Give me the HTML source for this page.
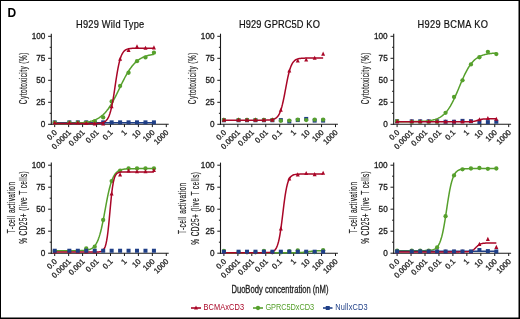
<!DOCTYPE html><html><head><meta charset="utf-8"><style>html,body{margin:0;padding:0;background:#fff;}svg{display:block;will-change:transform;}text{font-family:"Liberation Sans",sans-serif;}</style></head><body>
<svg width="520" height="319" viewBox="0 0 520 319">
<rect width="520" height="319" fill="#fff"/>
<rect x="0" y="0" width="520" height="1" fill="#000"/><rect x="0" y="0" width="1" height="319" fill="#000"/>
<rect x="518.5" y="0" width="1.5" height="319" fill="#000"/><rect x="0" y="317.5" width="520" height="1.5" fill="#000"/>
<text x="7.4" y="16.7" font-size="12" font-weight="bold" fill="#000">D</text>
<path d="M51.3 33.7V124.8" stroke="#1a1a1a" stroke-width="1.1" fill="none"/>
<path d="M48.1 124.3H51.3" stroke="#1a1a1a" stroke-width="1"/>
<text x="45.3" y="127.24" font-size="8.2" text-anchor="end" fill="#1e1e1e" stroke="#1e1e1e" stroke-width="0.3">0</text>
<path d="M48.1 102.3H51.3" stroke="#1a1a1a" stroke-width="1"/>
<text x="45.3" y="105.24" font-size="8.2" text-anchor="end" fill="#1e1e1e" stroke="#1e1e1e" stroke-width="0.3">25</text>
<path d="M48.1 80.3H51.3" stroke="#1a1a1a" stroke-width="1"/>
<text x="45.3" y="83.24" font-size="8.2" text-anchor="end" fill="#1e1e1e" stroke="#1e1e1e" stroke-width="0.3">50</text>
<path d="M48.1 58.3H51.3" stroke="#1a1a1a" stroke-width="1"/>
<text x="45.3" y="61.24" font-size="8.2" text-anchor="end" fill="#1e1e1e" stroke="#1e1e1e" stroke-width="0.3">75</text>
<path d="M48.1 36.3H51.3" stroke="#1a1a1a" stroke-width="1"/>
<text x="45.3" y="39.24" font-size="8.2" text-anchor="end" fill="#1e1e1e" stroke="#1e1e1e" stroke-width="0.3">100</text>
<path d="M49.7 113.3H51.3" stroke="#1a1a1a" stroke-width="1"/>
<path d="M49.7 91.3H51.3" stroke="#1a1a1a" stroke-width="1"/>
<path d="M49.7 69.3H51.3" stroke="#1a1a1a" stroke-width="1"/>
<path d="M49.7 47.3H51.3" stroke="#1a1a1a" stroke-width="1"/>
<path d="M50.8 124.3H168.7" stroke="#1a1a1a" stroke-width="1.1"/>
<path d="M54.7 124.3V127.1" stroke="#1a1a1a" stroke-width="1"/>
<text font-size="7.7" text-anchor="end" fill="#1e1e1e" stroke="#1e1e1e" stroke-width="0.3" transform="translate(57.5 133) rotate(-45)">0.0</text>
<path d="M68.65 124.3V127.1" stroke="#1a1a1a" stroke-width="1"/>
<text font-size="7.7" text-anchor="end" fill="#1e1e1e" stroke="#1e1e1e" stroke-width="0.3" transform="translate(71.45 133) rotate(-45)">0.0001</text>
<path d="M82.6 124.3V127.1" stroke="#1a1a1a" stroke-width="1"/>
<text font-size="7.7" text-anchor="end" fill="#1e1e1e" stroke="#1e1e1e" stroke-width="0.3" transform="translate(85.4 133) rotate(-45)">0.001</text>
<path d="M96.55 124.3V127.1" stroke="#1a1a1a" stroke-width="1"/>
<text font-size="7.7" text-anchor="end" fill="#1e1e1e" stroke="#1e1e1e" stroke-width="0.3" transform="translate(99.35 133) rotate(-45)">0.01</text>
<path d="M110.5 124.3V127.1" stroke="#1a1a1a" stroke-width="1"/>
<text font-size="7.7" text-anchor="end" fill="#1e1e1e" stroke="#1e1e1e" stroke-width="0.3" transform="translate(113.3 133) rotate(-45)">0.1</text>
<path d="M124.45 124.3V127.1" stroke="#1a1a1a" stroke-width="1"/>
<text font-size="7.7" text-anchor="end" fill="#1e1e1e" stroke="#1e1e1e" stroke-width="0.3" transform="translate(127.25 133) rotate(-45)">1</text>
<path d="M138.4 124.3V127.1" stroke="#1a1a1a" stroke-width="1"/>
<text font-size="7.7" text-anchor="end" fill="#1e1e1e" stroke="#1e1e1e" stroke-width="0.3" transform="translate(141.2 133) rotate(-45)">10</text>
<path d="M152.35 124.3V127.1" stroke="#1a1a1a" stroke-width="1"/>
<text font-size="7.7" text-anchor="end" fill="#1e1e1e" stroke="#1e1e1e" stroke-width="0.3" transform="translate(155.15 133) rotate(-45)">100</text>
<path d="M166.3 124.3V127.1" stroke="#1a1a1a" stroke-width="1"/>
<text font-size="7.7" text-anchor="end" fill="#1e1e1e" stroke="#1e1e1e" stroke-width="0.3" transform="translate(169.1 133) rotate(-45)">1000</text>
<text x="84.4" y="27.8" font-size="10.3" fill="#111" textLength="75.85" lengthAdjust="spacing" transform="scale(0.9 1)" stroke="#111" stroke-width="0.2">H929 Wild Type</text>
<text x="-0.53" y="0" font-size="10.5" fill="#2a2a2a" stroke="#2a2a2a" stroke-width="0.2" textLength="82.99" lengthAdjust="spacing" transform="translate(26.9 103.8) rotate(-90) scale(0.62 1)">Cytotoxicity (%)</text>
<path d="M54.7 122.72H153.93" stroke="#1f3f87" stroke-width="1.5"/>
<rect x="52.7" y="120.36" width="4" height="4" fill="#1f3f87"/><rect x="67.35" y="120.36" width="4" height="4" fill="#1f3f87"/><rect x="75.81" y="120.36" width="4" height="4" fill="#1f3f87"/><rect x="84.27" y="120.36" width="4" height="4" fill="#1f3f87"/><rect x="92.72" y="120.36" width="4" height="4" fill="#1f3f87"/><rect x="101.18" y="120.36" width="4" height="4" fill="#1f3f87"/><rect x="109.64" y="120.36" width="4" height="4" fill="#1f3f87"/><rect x="118.1" y="120.36" width="4" height="4" fill="#1f3f87"/><rect x="126.56" y="120.36" width="4" height="4" fill="#1f3f87"/><rect x="135.01" y="120.36" width="4" height="4" fill="#1f3f87"/><rect x="143.47" y="120.36" width="4" height="4" fill="#1f3f87"/><rect x="151.93" y="120.36" width="4" height="4" fill="#1f3f87"/>
<path d="M54.7,123.55 L55.37,123.55 L56.03,123.55 L56.7,123.54 L57.36,123.54 L58.03,123.54 L58.7,123.53 L59.36,123.53 L60.03,123.52 L60.69,123.52 L61.36,123.51 L62.03,123.51 L62.69,123.5 L63.36,123.49 L64.02,123.48 L64.69,123.48 L65.36,123.47 L66.02,123.46 L66.69,123.45 L67.35,123.44 L68.02,123.42 L68.69,123.41 L69.35,123.4 L70.02,123.38 L70.68,123.36 L71.35,123.35 L72.02,123.33 L72.68,123.31 L73.35,123.28 L74.01,123.26 L74.68,123.23 L75.35,123.2 L76.01,123.17 L76.68,123.14 L77.34,123.1 L78.01,123.06 L78.68,123.02 L79.34,122.97 L80.01,122.92 L80.67,122.87 L81.34,122.81 L82,122.75 L82.67,122.68 L83.34,122.61 L84,122.53 L84.67,122.45 L85.33,122.35 L86,122.26 L86.67,122.15 L87.33,122.03 L88,121.91 L88.66,121.78 L89.33,121.63 L90,121.48 L90.66,121.31 L91.33,121.13 L91.99,120.94 L92.66,120.73 L93.33,120.51 L93.99,120.27 L94.66,120.01 L95.32,119.74 L95.99,119.44 L96.66,119.12 L97.32,118.78 L97.99,118.42 L98.65,118.03 L99.32,117.62 L99.99,117.17 L100.65,116.7 L101.32,116.2 L101.98,115.66 L102.65,115.09 L103.32,114.49 L103.98,113.85 L104.65,113.17 L105.31,112.45 L105.98,111.69 L106.65,110.9 L107.31,110.06 L107.98,109.18 L108.64,108.26 L109.31,107.29 L109.98,106.29 L110.64,105.24 L111.31,104.16 L111.97,103.03 L112.64,101.87 L113.31,100.67 L113.97,99.44 L114.64,98.18 L115.3,96.89 L115.97,95.58 L116.64,94.24 L117.3,92.89 L117.97,91.52 L118.63,90.15 L119.3,88.76 L119.97,87.38 L120.63,86 L121.3,84.63 L121.96,83.27 L122.63,81.92 L123.3,80.59 L123.96,79.29 L124.63,78.01 L125.29,76.76 L125.96,75.55 L126.63,74.36 L127.29,73.22 L127.96,72.11 L128.62,71.04 L129.29,70.01 L129.95,69.02 L130.62,68.08 L131.29,67.18 L131.95,66.31 L132.62,65.49 L133.28,64.71 L133.95,63.97 L134.62,63.27 L135.28,62.61 L135.95,61.98 L136.61,61.4 L137.28,60.84 L137.95,60.32 L138.61,59.83 L139.28,59.37 L139.94,58.94 L140.61,58.53 L141.28,58.15 L141.94,57.8 L142.61,57.47 L143.27,57.16 L143.94,56.87 L144.61,56.61 L145.27,56.36 L145.94,56.12 L146.6,55.91 L147.27,55.71 L147.94,55.52 L148.6,55.35 L149.27,55.18 L149.93,55.03 L150.6,54.9 L151.27,54.77 L151.93,54.65 L152.6,54.54 L153.26,54.43 L153.93,54.34" fill="none" stroke="#56a02c" stroke-width="1.5"/>
<circle cx="54.7" cy="122.54" r="2.15" fill="#56a02c"/><circle cx="69.35" cy="122.54" r="2.15" fill="#56a02c"/><circle cx="77.81" cy="122.54" r="2.15" fill="#56a02c"/><circle cx="86.27" cy="122.54" r="2.15" fill="#56a02c"/><circle cx="94.72" cy="121.31" r="2.15" fill="#56a02c"/><circle cx="103.18" cy="117.44" r="2.15" fill="#56a02c"/><circle cx="111.64" cy="101.42" r="2.15" fill="#56a02c"/><circle cx="120.1" cy="86.02" r="2.15" fill="#56a02c"/><circle cx="128.56" cy="72.73" r="2.15" fill="#56a02c"/><circle cx="137.01" cy="61.2" r="2.15" fill="#56a02c"/><circle cx="145.47" cy="57.42" r="2.15" fill="#56a02c"/><circle cx="153.93" cy="52.67" r="2.15" fill="#56a02c"/>
<path d="M54.7,123.51 L55.37,123.51 L56.03,123.51 L56.7,123.51 L57.36,123.51 L58.03,123.51 L58.7,123.51 L59.36,123.51 L60.03,123.51 L60.69,123.51 L61.36,123.51 L62.03,123.51 L62.69,123.51 L63.36,123.51 L64.02,123.51 L64.69,123.51 L65.36,123.51 L66.02,123.51 L66.69,123.51 L67.35,123.51 L68.02,123.51 L68.69,123.51 L69.35,123.51 L70.02,123.51 L70.68,123.51 L71.35,123.51 L72.02,123.51 L72.68,123.51 L73.35,123.51 L74.01,123.51 L74.68,123.51 L75.35,123.51 L76.01,123.51 L76.68,123.51 L77.34,123.51 L78.01,123.51 L78.68,123.5 L79.34,123.5 L80.01,123.5 L80.67,123.5 L81.34,123.5 L82,123.5 L82.67,123.5 L83.34,123.5 L84,123.5 L84.67,123.5 L85.33,123.5 L86,123.5 L86.67,123.5 L87.33,123.5 L88,123.5 L88.66,123.5 L89.33,123.5 L90,123.5 L90.66,123.49 L91.33,123.49 L91.99,123.49 L92.66,123.48 L93.33,123.47 L93.99,123.47 L94.66,123.46 L95.32,123.44 L95.99,123.43 L96.66,123.4 L97.32,123.38 L97.99,123.34 L98.65,123.3 L99.32,123.24 L99.99,123.17 L100.65,123.09 L101.32,122.97 L101.98,122.83 L102.65,122.65 L103.32,122.43 L103.98,122.14 L104.65,121.79 L105.31,121.34 L105.98,120.78 L106.65,120.08 L107.31,119.21 L107.98,118.14 L108.64,116.82 L109.31,115.23 L109.98,113.3 L110.64,111.02 L111.31,108.34 L111.97,105.25 L112.64,101.77 L113.31,97.91 L113.97,93.76 L114.64,89.39 L115.3,84.92 L115.97,80.48 L116.64,76.18 L117.3,72.14 L117.97,68.43 L118.63,65.11 L119.3,62.19 L119.97,59.68 L120.63,57.54 L121.3,55.76 L121.96,54.29 L122.63,53.08 L123.3,52.09 L123.96,51.3 L124.63,50.66 L125.29,50.15 L125.96,49.74 L126.63,49.41 L127.29,49.15 L127.96,48.95 L128.62,48.79 L129.29,48.66 L129.95,48.56 L130.62,48.48 L131.29,48.41 L131.95,48.36 L132.62,48.32 L133.28,48.29 L133.95,48.27 L134.62,48.25 L135.28,48.23 L135.95,48.22 L136.61,48.21 L137.28,48.2 L137.95,48.2 L138.61,48.19 L139.28,48.19 L139.94,48.19 L140.61,48.18 L141.28,48.18 L141.94,48.18 L142.61,48.18 L143.27,48.18 L143.94,48.18 L144.61,48.18 L145.27,48.18 L145.94,48.18 L146.6,48.18 L147.27,48.18 L147.94,48.18 L148.6,48.18 L149.27,48.18 L149.93,48.18 L150.6,48.18 L151.27,48.18 L151.93,48.18 L152.6,48.18 L153.26,48.18 L153.93,48.18" fill="none" stroke="#a90627" stroke-width="1.5"/>
<path d="M54.7 120.44L56.7 124.54L52.7 124.54Z" fill="#a90627"/><path d="M69.35 120.44L71.35 124.54L67.35 124.54Z" fill="#a90627"/><path d="M77.81 120.44L79.81 124.54L75.81 124.54Z" fill="#a90627"/><path d="M86.27 120.88L88.27 124.98L84.27 124.98Z" fill="#a90627"/><path d="M94.72 121.32L96.72 125.42L92.72 125.42Z" fill="#a90627"/><path d="M103.18 121.32L105.18 125.42L101.18 125.42Z" fill="#a90627"/><path d="M111.64 104.16L113.64 108.26L109.64 108.26Z" fill="#a90627"/><path d="M120.1 56.64L122.1 60.74L118.1 60.74Z" fill="#a90627"/><path d="M128.56 47.84L130.56 51.94L126.56 51.94Z" fill="#a90627"/><path d="M137.01 44.32L139.01 48.42L135.01 48.42Z" fill="#a90627"/><path d="M145.47 45.73L147.47 49.83L143.47 49.83Z" fill="#a90627"/><path d="M153.93 45.37L155.93 49.47L151.93 49.47Z" fill="#a90627"/>
<path d="M220.5 33.7V124.8" stroke="#1a1a1a" stroke-width="1.1" fill="none"/>
<path d="M217.3 124.3H220.5" stroke="#1a1a1a" stroke-width="1"/>
<text x="214.5" y="127.24" font-size="8.2" text-anchor="end" fill="#1e1e1e" stroke="#1e1e1e" stroke-width="0.3">0</text>
<path d="M217.3 102.3H220.5" stroke="#1a1a1a" stroke-width="1"/>
<text x="214.5" y="105.24" font-size="8.2" text-anchor="end" fill="#1e1e1e" stroke="#1e1e1e" stroke-width="0.3">25</text>
<path d="M217.3 80.3H220.5" stroke="#1a1a1a" stroke-width="1"/>
<text x="214.5" y="83.24" font-size="8.2" text-anchor="end" fill="#1e1e1e" stroke="#1e1e1e" stroke-width="0.3">50</text>
<path d="M217.3 58.3H220.5" stroke="#1a1a1a" stroke-width="1"/>
<text x="214.5" y="61.24" font-size="8.2" text-anchor="end" fill="#1e1e1e" stroke="#1e1e1e" stroke-width="0.3">75</text>
<path d="M217.3 36.3H220.5" stroke="#1a1a1a" stroke-width="1"/>
<text x="214.5" y="39.24" font-size="8.2" text-anchor="end" fill="#1e1e1e" stroke="#1e1e1e" stroke-width="0.3">100</text>
<path d="M218.9 113.3H220.5" stroke="#1a1a1a" stroke-width="1"/>
<path d="M218.9 91.3H220.5" stroke="#1a1a1a" stroke-width="1"/>
<path d="M218.9 69.3H220.5" stroke="#1a1a1a" stroke-width="1"/>
<path d="M218.9 47.3H220.5" stroke="#1a1a1a" stroke-width="1"/>
<path d="M220 124.3H337.9" stroke="#1a1a1a" stroke-width="1.1"/>
<path d="M223.9 124.3V127.1" stroke="#1a1a1a" stroke-width="1"/>
<text font-size="7.7" text-anchor="end" fill="#1e1e1e" stroke="#1e1e1e" stroke-width="0.3" transform="translate(226.7 133) rotate(-45)">0.0</text>
<path d="M237.85 124.3V127.1" stroke="#1a1a1a" stroke-width="1"/>
<text font-size="7.7" text-anchor="end" fill="#1e1e1e" stroke="#1e1e1e" stroke-width="0.3" transform="translate(240.65 133) rotate(-45)">0.0001</text>
<path d="M251.8 124.3V127.1" stroke="#1a1a1a" stroke-width="1"/>
<text font-size="7.7" text-anchor="end" fill="#1e1e1e" stroke="#1e1e1e" stroke-width="0.3" transform="translate(254.6 133) rotate(-45)">0.001</text>
<path d="M265.75 124.3V127.1" stroke="#1a1a1a" stroke-width="1"/>
<text font-size="7.7" text-anchor="end" fill="#1e1e1e" stroke="#1e1e1e" stroke-width="0.3" transform="translate(268.55 133) rotate(-45)">0.01</text>
<path d="M279.7 124.3V127.1" stroke="#1a1a1a" stroke-width="1"/>
<text font-size="7.7" text-anchor="end" fill="#1e1e1e" stroke="#1e1e1e" stroke-width="0.3" transform="translate(282.5 133) rotate(-45)">0.1</text>
<path d="M293.65 124.3V127.1" stroke="#1a1a1a" stroke-width="1"/>
<text font-size="7.7" text-anchor="end" fill="#1e1e1e" stroke="#1e1e1e" stroke-width="0.3" transform="translate(296.45 133) rotate(-45)">1</text>
<path d="M307.6 124.3V127.1" stroke="#1a1a1a" stroke-width="1"/>
<text font-size="7.7" text-anchor="end" fill="#1e1e1e" stroke="#1e1e1e" stroke-width="0.3" transform="translate(310.4 133) rotate(-45)">10</text>
<path d="M321.55 124.3V127.1" stroke="#1a1a1a" stroke-width="1"/>
<text font-size="7.7" text-anchor="end" fill="#1e1e1e" stroke="#1e1e1e" stroke-width="0.3" transform="translate(324.35 133) rotate(-45)">100</text>
<path d="M335.5 124.3V127.1" stroke="#1a1a1a" stroke-width="1"/>
<text font-size="7.7" text-anchor="end" fill="#1e1e1e" stroke="#1e1e1e" stroke-width="0.3" transform="translate(338.3 133) rotate(-45)">1000</text>
<text x="265.56" y="27.8" font-size="10.3" fill="#111" textLength="89.83" lengthAdjust="spacing" transform="scale(0.9 1)" stroke="#111" stroke-width="0.2">H929 GPRC5D KO</text>
<text x="-0.53" y="0" font-size="10.5" fill="#2a2a2a" stroke="#2a2a2a" stroke-width="0.2" textLength="82.99" lengthAdjust="spacing" transform="translate(196.1 103.8) rotate(-90) scale(0.62 1)">Cytotoxicity (%)</text>

<rect x="221.9" y="118.25" width="4" height="4" fill="#1f3f87"/><rect x="236.55" y="118.25" width="4" height="4" fill="#1f3f87"/><rect x="245.01" y="118.25" width="4" height="4" fill="#1f3f87"/><rect x="253.47" y="118.25" width="4" height="4" fill="#1f3f87"/><rect x="261.92" y="118.25" width="4" height="4" fill="#1f3f87"/><rect x="270.38" y="118.25" width="4" height="4" fill="#1f3f87"/><rect x="278.84" y="118.08" width="4" height="4" fill="#1f3f87"/><rect x="287.3" y="119.48" width="4" height="4" fill="#1f3f87"/><rect x="295.76" y="118.08" width="4" height="4" fill="#1f3f87"/><rect x="304.21" y="116.93" width="4" height="4" fill="#1f3f87"/><rect x="312.67" y="118.6" width="4" height="4" fill="#1f3f87"/><rect x="321.13" y="118.6" width="4" height="4" fill="#1f3f87"/>

<circle cx="223.9" cy="119.9" r="2.15" fill="#56a02c"/><circle cx="238.55" cy="119.9" r="2.15" fill="#56a02c"/><circle cx="247.01" cy="119.9" r="2.15" fill="#56a02c"/><circle cx="255.47" cy="119.9" r="2.15" fill="#56a02c"/><circle cx="263.92" cy="119.9" r="2.15" fill="#56a02c"/><circle cx="272.38" cy="119.9" r="2.15" fill="#56a02c"/><circle cx="280.84" cy="120.87" r="2.15" fill="#56a02c"/><circle cx="289.3" cy="120.6" r="2.15" fill="#56a02c"/><circle cx="297.76" cy="119.72" r="2.15" fill="#56a02c"/><circle cx="306.21" cy="120.08" r="2.15" fill="#56a02c"/><circle cx="314.67" cy="119.72" r="2.15" fill="#56a02c"/><circle cx="323.13" cy="119.72" r="2.15" fill="#56a02c"/>
<path d="M223.9,120.2 L224.57,120.2 L225.23,120.2 L225.9,120.2 L226.56,120.2 L227.23,120.2 L227.9,120.2 L228.56,120.2 L229.23,120.2 L229.89,120.2 L230.56,120.2 L231.23,120.2 L231.89,120.2 L232.56,120.2 L233.22,120.2 L233.89,120.2 L234.56,120.2 L235.22,120.2 L235.89,120.2 L236.55,120.2 L237.22,120.2 L237.89,120.2 L238.55,120.2 L239.22,120.2 L239.88,120.2 L240.55,120.2 L241.22,120.2 L241.88,120.2 L242.55,120.2 L243.21,120.2 L243.88,120.2 L244.55,120.2 L245.21,120.2 L245.88,120.2 L246.54,120.2 L247.21,120.2 L247.88,120.2 L248.54,120.2 L249.21,120.2 L249.87,120.2 L250.54,120.2 L251.2,120.2 L251.87,120.2 L252.54,120.2 L253.2,120.2 L253.87,120.2 L254.53,120.2 L255.2,120.2 L255.87,120.2 L256.53,120.2 L257.2,120.2 L257.86,120.2 L258.53,120.2 L259.2,120.2 L259.86,120.19 L260.53,120.19 L261.19,120.19 L261.86,120.19 L262.53,120.18 L263.19,120.18 L263.86,120.17 L264.52,120.16 L265.19,120.15 L265.86,120.14 L266.52,120.12 L267.19,120.1 L267.85,120.07 L268.52,120.03 L269.19,119.99 L269.85,119.93 L270.52,119.87 L271.18,119.78 L271.85,119.67 L272.52,119.53 L273.18,119.36 L273.85,119.15 L274.51,118.88 L275.18,118.54 L275.85,118.13 L276.51,117.61 L277.18,116.98 L277.84,116.19 L278.51,115.23 L279.18,114.07 L279.84,112.67 L280.51,111 L281.17,109.04 L281.84,106.77 L282.51,104.19 L283.17,101.29 L283.84,98.13 L284.5,94.74 L285.17,91.21 L285.84,87.63 L286.5,84.09 L287.17,80.67 L287.83,77.46 L288.5,74.52 L289.17,71.88 L289.83,69.56 L290.5,67.55 L291.16,65.83 L291.83,64.39 L292.5,63.19 L293.16,62.2 L293.83,61.39 L294.49,60.73 L295.16,60.19 L295.83,59.76 L296.49,59.42 L297.16,59.14 L297.82,58.92 L298.49,58.74 L299.15,58.6 L299.82,58.48 L300.49,58.39 L301.15,58.32 L301.82,58.26 L302.48,58.22 L303.15,58.18 L303.82,58.15 L304.48,58.13 L305.15,58.11 L305.81,58.1 L306.48,58.09 L307.15,58.08 L307.81,58.07 L308.48,58.06 L309.14,58.06 L309.81,58.06 L310.48,58.05 L311.14,58.05 L311.81,58.05 L312.47,58.05 L313.14,58.05 L313.81,58.05 L314.47,58.05 L315.14,58.04 L315.8,58.04 L316.47,58.04 L317.14,58.04 L317.8,58.04 L318.47,58.04 L319.13,58.04 L319.8,58.04 L320.47,58.04 L321.13,58.04 L321.8,58.04 L322.46,58.04 L323.13,58.04" fill="none" stroke="#a90627" stroke-width="1.5"/>
<path d="M223.9 117.53L225.9 121.63L221.9 121.63Z" fill="#a90627"/><path d="M238.55 117.53L240.55 121.63L236.55 121.63Z" fill="#a90627"/><path d="M247.01 117.53L249.01 121.63L245.01 121.63Z" fill="#a90627"/><path d="M255.47 117.53L257.47 121.63L253.47 121.63Z" fill="#a90627"/><path d="M263.92 117.53L265.92 121.63L261.92 121.63Z" fill="#a90627"/><path d="M272.38 117.53L274.38 121.63L270.38 121.63Z" fill="#a90627"/><path d="M280.84 107.68L282.84 111.78L278.84 111.78Z" fill="#a90627"/><path d="M289.3 68.52L291.3 72.62L287.3 72.62Z" fill="#a90627"/><path d="M297.76 58.4L299.76 62.5L295.76 62.5Z" fill="#a90627"/><path d="M306.21 57.52L308.21 61.62L304.21 61.62Z" fill="#a90627"/><path d="M314.67 55.76L316.67 59.86L312.67 59.86Z" fill="#a90627"/><path d="M323.13 51.53L325.13 55.63L321.13 55.63Z" fill="#a90627"/>
<path d="M393.7 33.7V124.8" stroke="#1a1a1a" stroke-width="1.1" fill="none"/>
<path d="M390.5 124.3H393.7" stroke="#1a1a1a" stroke-width="1"/>
<text x="387.7" y="127.24" font-size="8.2" text-anchor="end" fill="#1e1e1e" stroke="#1e1e1e" stroke-width="0.3">0</text>
<path d="M390.5 102.3H393.7" stroke="#1a1a1a" stroke-width="1"/>
<text x="387.7" y="105.24" font-size="8.2" text-anchor="end" fill="#1e1e1e" stroke="#1e1e1e" stroke-width="0.3">25</text>
<path d="M390.5 80.3H393.7" stroke="#1a1a1a" stroke-width="1"/>
<text x="387.7" y="83.24" font-size="8.2" text-anchor="end" fill="#1e1e1e" stroke="#1e1e1e" stroke-width="0.3">50</text>
<path d="M390.5 58.3H393.7" stroke="#1a1a1a" stroke-width="1"/>
<text x="387.7" y="61.24" font-size="8.2" text-anchor="end" fill="#1e1e1e" stroke="#1e1e1e" stroke-width="0.3">75</text>
<path d="M390.5 36.3H393.7" stroke="#1a1a1a" stroke-width="1"/>
<text x="387.7" y="39.24" font-size="8.2" text-anchor="end" fill="#1e1e1e" stroke="#1e1e1e" stroke-width="0.3">100</text>
<path d="M392.1 113.3H393.7" stroke="#1a1a1a" stroke-width="1"/>
<path d="M392.1 91.3H393.7" stroke="#1a1a1a" stroke-width="1"/>
<path d="M392.1 69.3H393.7" stroke="#1a1a1a" stroke-width="1"/>
<path d="M392.1 47.3H393.7" stroke="#1a1a1a" stroke-width="1"/>
<path d="M393.2 124.3H511.1" stroke="#1a1a1a" stroke-width="1.1"/>
<path d="M397.1 124.3V127.1" stroke="#1a1a1a" stroke-width="1"/>
<text font-size="7.7" text-anchor="end" fill="#1e1e1e" stroke="#1e1e1e" stroke-width="0.3" transform="translate(399.9 133) rotate(-45)">0.0</text>
<path d="M411.05 124.3V127.1" stroke="#1a1a1a" stroke-width="1"/>
<text font-size="7.7" text-anchor="end" fill="#1e1e1e" stroke="#1e1e1e" stroke-width="0.3" transform="translate(413.85 133) rotate(-45)">0.0001</text>
<path d="M425 124.3V127.1" stroke="#1a1a1a" stroke-width="1"/>
<text font-size="7.7" text-anchor="end" fill="#1e1e1e" stroke="#1e1e1e" stroke-width="0.3" transform="translate(427.8 133) rotate(-45)">0.001</text>
<path d="M438.95 124.3V127.1" stroke="#1a1a1a" stroke-width="1"/>
<text font-size="7.7" text-anchor="end" fill="#1e1e1e" stroke="#1e1e1e" stroke-width="0.3" transform="translate(441.75 133) rotate(-45)">0.01</text>
<path d="M452.9 124.3V127.1" stroke="#1a1a1a" stroke-width="1"/>
<text font-size="7.7" text-anchor="end" fill="#1e1e1e" stroke="#1e1e1e" stroke-width="0.3" transform="translate(455.7 133) rotate(-45)">0.1</text>
<path d="M466.85 124.3V127.1" stroke="#1a1a1a" stroke-width="1"/>
<text font-size="7.7" text-anchor="end" fill="#1e1e1e" stroke="#1e1e1e" stroke-width="0.3" transform="translate(469.65 133) rotate(-45)">1</text>
<path d="M480.8 124.3V127.1" stroke="#1a1a1a" stroke-width="1"/>
<text font-size="7.7" text-anchor="end" fill="#1e1e1e" stroke="#1e1e1e" stroke-width="0.3" transform="translate(483.6 133) rotate(-45)">10</text>
<path d="M494.75 124.3V127.1" stroke="#1a1a1a" stroke-width="1"/>
<text font-size="7.7" text-anchor="end" fill="#1e1e1e" stroke="#1e1e1e" stroke-width="0.3" transform="translate(497.55 133) rotate(-45)">100</text>
<path d="M508.7 124.3V127.1" stroke="#1a1a1a" stroke-width="1"/>
<text font-size="7.7" text-anchor="end" fill="#1e1e1e" stroke="#1e1e1e" stroke-width="0.3" transform="translate(511.5 133) rotate(-45)">1000</text>
<text x="463.95" y="27.8" font-size="10.3" fill="#111" textLength="78.18" lengthAdjust="spacing" transform="scale(0.9 1)" stroke="#111" stroke-width="0.2">H929 BCMA KO</text>
<text x="-0.53" y="0" font-size="10.5" fill="#2a2a2a" stroke="#2a2a2a" stroke-width="0.2" textLength="82.99" lengthAdjust="spacing" transform="translate(369.3 103.8) rotate(-90) scale(0.62 1)">Cytotoxicity (%)</text>

<rect x="395.1" y="119.31" width="4" height="4" fill="#1f3f87"/><rect x="409.75" y="119.31" width="4" height="4" fill="#1f3f87"/><rect x="418.21" y="119.31" width="4" height="4" fill="#1f3f87"/><rect x="426.67" y="119.31" width="4" height="4" fill="#1f3f87"/><rect x="435.12" y="119.31" width="4" height="4" fill="#1f3f87"/><rect x="443.58" y="119.75" width="4" height="4" fill="#1f3f87"/><rect x="452.04" y="119.75" width="4" height="4" fill="#1f3f87"/><rect x="460.5" y="118.87" width="4" height="4" fill="#1f3f87"/><rect x="468.96" y="119.22" width="4" height="4" fill="#1f3f87"/><rect x="477.41" y="120.1" width="4" height="4" fill="#1f3f87"/><rect x="485.87" y="120.1" width="4" height="4" fill="#1f3f87"/><rect x="494.33" y="119.75" width="4" height="4" fill="#1f3f87"/>
<path d="M397.1,121.74 L397.77,121.73 L398.43,121.73 L399.1,121.73 L399.76,121.73 L400.43,121.73 L401.1,121.73 L401.76,121.72 L402.43,121.72 L403.09,121.72 L403.76,121.72 L404.43,121.71 L405.09,121.71 L405.76,121.71 L406.42,121.7 L407.09,121.7 L407.76,121.69 L408.42,121.69 L409.09,121.68 L409.75,121.68 L410.42,121.67 L411.09,121.66 L411.75,121.65 L412.42,121.65 L413.08,121.64 L413.75,121.62 L414.42,121.61 L415.08,121.6 L415.75,121.58 L416.41,121.57 L417.08,121.55 L417.75,121.53 L418.41,121.51 L419.08,121.49 L419.74,121.46 L420.41,121.44 L421.08,121.41 L421.74,121.37 L422.41,121.34 L423.07,121.3 L423.74,121.25 L424.4,121.21 L425.07,121.15 L425.74,121.1 L426.4,121.03 L427.07,120.97 L427.73,120.89 L428.4,120.81 L429.07,120.72 L429.73,120.62 L430.4,120.51 L431.06,120.39 L431.73,120.27 L432.4,120.13 L433.06,119.97 L433.73,119.8 L434.39,119.62 L435.06,119.42 L435.73,119.2 L436.39,118.97 L437.06,118.71 L437.72,118.43 L438.39,118.12 L439.06,117.79 L439.72,117.43 L440.39,117.04 L441.05,116.62 L441.72,116.16 L442.39,115.67 L443.05,115.13 L443.72,114.56 L444.38,113.94 L445.05,113.27 L445.72,112.56 L446.38,111.8 L447.05,110.98 L447.71,110.11 L448.38,109.19 L449.05,108.21 L449.71,107.17 L450.38,106.08 L451.04,104.93 L451.71,103.72 L452.38,102.46 L453.04,101.14 L453.71,99.78 L454.37,98.37 L455.04,96.92 L455.71,95.42 L456.37,93.9 L457.04,92.35 L457.7,90.77 L458.37,89.18 L459.04,87.58 L459.7,85.99 L460.37,84.39 L461.03,82.81 L461.7,81.25 L462.37,79.71 L463.03,78.2 L463.7,76.73 L464.36,75.3 L465.03,73.91 L465.7,72.57 L466.36,71.29 L467.03,70.06 L467.69,68.88 L468.36,67.76 L469.03,66.69 L469.69,65.69 L470.36,64.74 L471.02,63.84 L471.69,63 L472.35,62.22 L473.02,61.48 L473.69,60.79 L474.35,60.15 L475.02,59.56 L475.68,59 L476.35,58.49 L477.02,58.02 L477.68,57.58 L478.35,57.17 L479.01,56.8 L479.68,56.45 L480.35,56.14 L481.01,55.85 L481.68,55.58 L482.34,55.33 L483.01,55.1 L483.68,54.9 L484.34,54.71 L485.01,54.53 L485.67,54.37 L486.34,54.23 L487.01,54.09 L487.67,53.97 L488.34,53.86 L489,53.75 L489.67,53.66 L490.34,53.58 L491,53.5 L491.67,53.43 L492.33,53.36 L493,53.3 L493.67,53.25 L494.33,53.2 L495,53.15 L495.66,53.11 L496.33,53.07" fill="none" stroke="#56a02c" stroke-width="1.5"/>
<circle cx="397.1" cy="121.13" r="2.15" fill="#56a02c"/><circle cx="411.75" cy="121.84" r="2.15" fill="#56a02c"/><circle cx="420.21" cy="121.84" r="2.15" fill="#56a02c"/><circle cx="428.67" cy="121.84" r="2.15" fill="#56a02c"/><circle cx="437.12" cy="121.84" r="2.15" fill="#56a02c"/><circle cx="445.58" cy="112.86" r="2.15" fill="#56a02c"/><circle cx="454.04" cy="97.02" r="2.15" fill="#56a02c"/><circle cx="462.5" cy="80.3" r="2.15" fill="#56a02c"/><circle cx="470.96" cy="64.46" r="2.15" fill="#56a02c"/><circle cx="479.41" cy="57.24" r="2.15" fill="#56a02c"/><circle cx="487.87" cy="51.79" r="2.15" fill="#56a02c"/><circle cx="496.33" cy="54.08" r="2.15" fill="#56a02c"/>
<path d="M397.1,121.72 L397.77,121.72 L398.43,121.72 L399.1,121.72 L399.76,121.72 L400.43,121.72 L401.1,121.72 L401.76,121.72 L402.43,121.72 L403.09,121.72 L403.76,121.72 L404.43,121.72 L405.09,121.72 L405.76,121.72 L406.42,121.72 L407.09,121.72 L407.76,121.72 L408.42,121.72 L409.09,121.72 L409.75,121.72 L410.42,121.72 L411.09,121.72 L411.75,121.72 L412.42,121.72 L413.08,121.72 L413.75,121.72 L414.42,121.72 L415.08,121.72 L415.75,121.72 L416.41,121.72 L417.08,121.72 L417.75,121.72 L418.41,121.72 L419.08,121.72 L419.74,121.72 L420.41,121.72 L421.08,121.72 L421.74,121.72 L422.41,121.72 L423.07,121.72 L423.74,121.72 L424.4,121.72 L425.07,121.72 L425.74,121.72 L426.4,121.72 L427.07,121.72 L427.73,121.72 L428.4,121.72 L429.07,121.72 L429.73,121.72 L430.4,121.72 L431.06,121.72 L431.73,121.72 L432.4,121.72 L433.06,121.72 L433.73,121.72 L434.39,121.72 L435.06,121.72 L435.73,121.72 L436.39,121.72 L437.06,121.72 L437.72,121.72 L438.39,121.72 L439.06,121.72 L439.72,121.72 L440.39,121.72 L441.05,121.72 L441.72,121.72 L442.39,121.72 L443.05,121.72 L443.72,121.72 L444.38,121.72 L445.05,121.72 L445.72,121.72 L446.38,121.72 L447.05,121.72 L447.71,121.72 L448.38,121.72 L449.05,121.72 L449.71,121.72 L450.38,121.72 L451.04,121.72 L451.71,121.72 L452.38,121.72 L453.04,121.72 L453.71,121.72 L454.37,121.72 L455.04,121.72 L455.71,121.72 L456.37,121.72 L457.04,121.72 L457.7,121.72 L458.37,121.72 L459.04,121.72 L459.7,121.71 L460.37,121.71 L461.03,121.71 L461.7,121.71 L462.37,121.71 L463.03,121.71 L463.7,121.71 L464.36,121.71 L465.03,121.71 L465.7,121.7 L466.36,121.7 L467.03,121.69 L467.69,121.68 L468.36,121.67 L469.03,121.66 L469.69,121.64 L470.36,121.61 L471.02,121.58 L471.69,121.53 L472.35,121.48 L473.02,121.4 L473.69,121.31 L474.35,121.19 L475.02,121.06 L475.68,120.9 L476.35,120.71 L477.02,120.51 L477.68,120.3 L478.35,120.09 L479.01,119.89 L479.68,119.7 L480.35,119.53 L481.01,119.39 L481.68,119.27 L482.34,119.17 L483.01,119.1 L483.68,119.04 L484.34,118.99 L485.01,118.95 L485.67,118.92 L486.34,118.9 L487.01,118.89 L487.67,118.88 L488.34,118.87 L489,118.86 L489.67,118.85 L490.34,118.85 L491,118.85 L491.67,118.85 L492.33,118.84 L493,118.84 L493.67,118.84 L494.33,118.84 L495,118.84 L495.66,118.84 L496.33,118.84" fill="none" stroke="#a90627" stroke-width="1.5"/>
<path d="M397.1 119.12L399.1 123.22L395.1 123.22Z" fill="#a90627"/><path d="M411.75 119.12L413.75 123.22L409.75 123.22Z" fill="#a90627"/><path d="M420.21 119.12L422.21 123.22L418.21 123.22Z" fill="#a90627"/><path d="M428.67 119.12L430.67 123.22L426.67 123.22Z" fill="#a90627"/><path d="M437.12 119.12L439.12 123.22L435.12 123.22Z" fill="#a90627"/><path d="M445.58 119.29L447.58 123.39L443.58 123.39Z" fill="#a90627"/><path d="M454.04 119.29L456.04 123.39L452.04 123.39Z" fill="#a90627"/><path d="M462.5 119.29L464.5 123.39L460.5 123.39Z" fill="#a90627"/><path d="M470.96 118.94L472.96 123.04L468.96 123.04Z" fill="#a90627"/><path d="M479.41 117.27L481.41 121.37L477.41 121.37Z" fill="#a90627"/><path d="M487.87 115.95L489.87 120.05L485.87 120.05Z" fill="#a90627"/><path d="M496.33 116.65L498.33 120.75L494.33 120.75Z" fill="#a90627"/>
<path d="M51.3 162.6V253.7" stroke="#1a1a1a" stroke-width="1.1" fill="none"/>
<path d="M48.1 253.2H51.3" stroke="#1a1a1a" stroke-width="1"/>
<text x="45.3" y="256.14" font-size="8.2" text-anchor="end" fill="#1e1e1e" stroke="#1e1e1e" stroke-width="0.3">0</text>
<path d="M48.1 231.2H51.3" stroke="#1a1a1a" stroke-width="1"/>
<text x="45.3" y="234.14" font-size="8.2" text-anchor="end" fill="#1e1e1e" stroke="#1e1e1e" stroke-width="0.3">25</text>
<path d="M48.1 209.2H51.3" stroke="#1a1a1a" stroke-width="1"/>
<text x="45.3" y="212.14" font-size="8.2" text-anchor="end" fill="#1e1e1e" stroke="#1e1e1e" stroke-width="0.3">50</text>
<path d="M48.1 187.2H51.3" stroke="#1a1a1a" stroke-width="1"/>
<text x="45.3" y="190.14" font-size="8.2" text-anchor="end" fill="#1e1e1e" stroke="#1e1e1e" stroke-width="0.3">75</text>
<path d="M48.1 165.2H51.3" stroke="#1a1a1a" stroke-width="1"/>
<text x="45.3" y="168.14" font-size="8.2" text-anchor="end" fill="#1e1e1e" stroke="#1e1e1e" stroke-width="0.3">100</text>
<path d="M49.7 242.2H51.3" stroke="#1a1a1a" stroke-width="1"/>
<path d="M49.7 220.2H51.3" stroke="#1a1a1a" stroke-width="1"/>
<path d="M49.7 198.2H51.3" stroke="#1a1a1a" stroke-width="1"/>
<path d="M49.7 176.2H51.3" stroke="#1a1a1a" stroke-width="1"/>
<path d="M50.8 253.2H168.7" stroke="#1a1a1a" stroke-width="1.1"/>
<path d="M54.7 253.2V256" stroke="#1a1a1a" stroke-width="1"/>
<text font-size="7.7" text-anchor="end" fill="#1e1e1e" stroke="#1e1e1e" stroke-width="0.3" transform="translate(57.5 261.9) rotate(-45)">0.0</text>
<path d="M68.65 253.2V256" stroke="#1a1a1a" stroke-width="1"/>
<text font-size="7.7" text-anchor="end" fill="#1e1e1e" stroke="#1e1e1e" stroke-width="0.3" transform="translate(71.45 261.9) rotate(-45)">0.0001</text>
<path d="M82.6 253.2V256" stroke="#1a1a1a" stroke-width="1"/>
<text font-size="7.7" text-anchor="end" fill="#1e1e1e" stroke="#1e1e1e" stroke-width="0.3" transform="translate(85.4 261.9) rotate(-45)">0.001</text>
<path d="M96.55 253.2V256" stroke="#1a1a1a" stroke-width="1"/>
<text font-size="7.7" text-anchor="end" fill="#1e1e1e" stroke="#1e1e1e" stroke-width="0.3" transform="translate(99.35 261.9) rotate(-45)">0.01</text>
<path d="M110.5 253.2V256" stroke="#1a1a1a" stroke-width="1"/>
<text font-size="7.7" text-anchor="end" fill="#1e1e1e" stroke="#1e1e1e" stroke-width="0.3" transform="translate(113.3 261.9) rotate(-45)">0.1</text>
<path d="M124.45 253.2V256" stroke="#1a1a1a" stroke-width="1"/>
<text font-size="7.7" text-anchor="end" fill="#1e1e1e" stroke="#1e1e1e" stroke-width="0.3" transform="translate(127.25 261.9) rotate(-45)">1</text>
<path d="M138.4 253.2V256" stroke="#1a1a1a" stroke-width="1"/>
<text font-size="7.7" text-anchor="end" fill="#1e1e1e" stroke="#1e1e1e" stroke-width="0.3" transform="translate(141.2 261.9) rotate(-45)">10</text>
<path d="M152.35 253.2V256" stroke="#1a1a1a" stroke-width="1"/>
<text font-size="7.7" text-anchor="end" fill="#1e1e1e" stroke="#1e1e1e" stroke-width="0.3" transform="translate(155.15 261.9) rotate(-45)">100</text>
<path d="M166.3 253.2V256" stroke="#1a1a1a" stroke-width="1"/>
<text font-size="7.7" text-anchor="end" fill="#1e1e1e" stroke="#1e1e1e" stroke-width="0.3" transform="translate(169.1 261.9) rotate(-45)">1000</text>
<text x="-0.26" y="0" font-size="10.2" fill="#1e1e1e" stroke="#1e1e1e" stroke-width="0.2" textLength="80" lengthAdjust="spacing" transform="translate(14.9 233) rotate(-90) scale(0.64 1)">T-cell activation</text>
<text x="-0.36" y="0" font-size="10.2" fill="#1e1e1e" stroke="#1e1e1e" stroke-width="0.2" textLength="113.5" lengthAdjust="spacing" transform="translate(27 243.6) rotate(-90) scale(0.64 1)">% CD25+ (live T cells)</text>
<path d="M54.7,250.74 L55.37,250.74 L56.03,250.74 L56.7,250.74 L57.36,250.74 L58.03,250.74 L58.7,250.74 L59.36,250.74 L60.03,250.74 L60.69,250.74 L61.36,250.74 L62.03,250.74 L62.69,250.74 L63.36,250.74 L64.02,250.74 L64.69,250.74 L65.36,250.74 L66.02,250.73 L66.69,250.73 L67.35,250.73 L68.02,250.73 L68.69,250.73 L69.35,250.73 L70.02,250.73 L70.68,250.73 L71.35,250.73 L72.02,250.73 L72.68,250.72 L73.35,250.72 L74.01,250.72 L74.68,250.71 L75.35,250.71 L76.01,250.7 L76.68,250.7 L77.34,250.69 L78.01,250.68 L78.68,250.67 L79.34,250.65 L80.01,250.64 L80.67,250.62 L81.34,250.59 L82,250.56 L82.67,250.53 L83.34,250.49 L84,250.44 L84.67,250.39 L85.33,250.32 L86,250.24 L86.67,250.14 L87.33,250.03 L88,249.89 L88.66,249.73 L89.33,249.53 L90,249.3 L90.66,249.03 L91.33,248.71 L91.99,248.33 L92.66,247.88 L93.33,247.35 L93.99,246.72 L94.66,245.99 L95.32,245.13 L95.99,244.14 L96.66,242.98 L97.32,241.64 L97.99,240.11 L98.65,238.36 L99.32,236.38 L99.99,234.16 L100.65,231.69 L101.32,228.98 L101.98,226.03 L102.65,222.87 L103.32,219.52 L103.98,216.03 L104.65,212.44 L105.31,208.81 L105.98,205.19 L106.65,201.64 L107.31,198.21 L107.98,194.95 L108.64,191.88 L109.31,189.04 L109.98,186.45 L110.64,184.1 L111.31,181.99 L111.97,180.12 L112.64,178.48 L113.31,177.04 L113.97,175.79 L114.64,174.71 L115.3,173.78 L115.97,172.98 L116.64,172.3 L117.3,171.72 L117.97,171.23 L118.63,170.81 L119.3,170.46 L119.97,170.16 L120.63,169.91 L121.3,169.7 L121.96,169.52 L122.63,169.37 L123.3,169.25 L123.96,169.14 L124.63,169.05 L125.29,168.98 L125.96,168.92 L126.63,168.86 L127.29,168.82 L127.96,168.78 L128.62,168.75 L129.29,168.73 L129.95,168.71 L130.62,168.69 L131.29,168.67 L131.95,168.66 L132.62,168.65 L133.28,168.64 L133.95,168.63 L134.62,168.63 L135.28,168.62 L135.95,168.62 L136.61,168.61 L137.28,168.61 L137.95,168.61 L138.61,168.6 L139.28,168.6 L139.94,168.6 L140.61,168.6 L141.28,168.6 L141.94,168.6 L142.61,168.6 L143.27,168.6 L143.94,168.6 L144.61,168.6 L145.27,168.59 L145.94,168.59 L146.6,168.59 L147.27,168.59 L147.94,168.59 L148.6,168.59 L149.27,168.59 L149.93,168.59 L150.6,168.59 L151.27,168.59 L151.93,168.59 L152.6,168.59 L153.26,168.59 L153.93,168.59" fill="none" stroke="#56a02c" stroke-width="1.5"/>
<circle cx="54.7" cy="251.09" r="2.15" fill="#56a02c"/><circle cx="69.35" cy="251.09" r="2.15" fill="#56a02c"/><circle cx="77.81" cy="251.09" r="2.15" fill="#56a02c"/><circle cx="86.27" cy="248.45" r="2.15" fill="#56a02c"/><circle cx="94.72" cy="246.69" r="2.15" fill="#56a02c"/><circle cx="103.18" cy="220.02" r="2.15" fill="#56a02c"/><circle cx="111.64" cy="181.04" r="2.15" fill="#56a02c"/><circle cx="120.1" cy="170.7" r="2.15" fill="#56a02c"/><circle cx="128.56" cy="168.5" r="2.15" fill="#56a02c"/><circle cx="137.01" cy="168.5" r="2.15" fill="#56a02c"/><circle cx="145.47" cy="168.5" r="2.15" fill="#56a02c"/><circle cx="153.93" cy="168.5" r="2.15" fill="#56a02c"/>
<path d="M54.7,252.05 L55.37,252.05 L56.03,252.05 L56.7,252.05 L57.36,252.05 L58.03,252.05 L58.7,252.05 L59.36,252.05 L60.03,252.05 L60.69,252.05 L61.36,252.05 L62.03,252.05 L62.69,252.05 L63.36,252.05 L64.02,252.05 L64.69,252.05 L65.36,252.05 L66.02,252.05 L66.69,252.05 L67.35,252.05 L68.02,252.05 L68.69,252.05 L69.35,252.05 L70.02,252.05 L70.68,252.05 L71.35,252.05 L72.02,252.05 L72.68,252.05 L73.35,252.05 L74.01,252.05 L74.68,252.05 L75.35,252.05 L76.01,252.05 L76.68,252.05 L77.34,252.05 L78.01,252.05 L78.68,252.05 L79.34,252.05 L80.01,252.05 L80.67,252.05 L81.34,252.05 L82,252.05 L82.67,252.05 L83.34,252.05 L84,252.05 L84.67,252.05 L85.33,252.05 L86,252.05 L86.67,252.05 L87.33,252.05 L88,252.05 L88.66,252.05 L89.33,252.05 L90,252.05 L90.66,252.05 L91.33,252.04 L91.99,252.04 L92.66,252.04 L93.33,252.04 L93.99,252.04 L94.66,252.03 L95.32,252.02 L95.99,252.01 L96.66,252 L97.32,251.97 L97.99,251.94 L98.65,251.89 L99.32,251.82 L99.99,251.72 L100.65,251.57 L101.32,251.36 L101.98,251.06 L102.65,250.63 L103.32,250.01 L103.98,249.14 L104.65,247.91 L105.31,246.19 L105.98,243.84 L106.65,240.7 L107.31,236.61 L107.98,231.48 L108.64,225.35 L109.31,218.43 L109.98,211.09 L110.64,203.81 L111.31,197.05 L111.97,191.15 L112.64,186.27 L113.31,182.42 L113.97,179.48 L114.64,177.3 L115.3,175.71 L115.97,174.58 L116.64,173.77 L117.3,173.2 L117.97,172.81 L118.63,172.53 L119.3,172.34 L119.97,172.21 L120.63,172.11 L121.3,172.05 L121.96,172.01 L122.63,171.97 L123.3,171.95 L123.96,171.94 L124.63,171.93 L125.29,171.92 L125.96,171.92 L126.63,171.91 L127.29,171.91 L127.96,171.91 L128.62,171.91 L129.29,171.91 L129.95,171.91 L130.62,171.91 L131.29,171.91 L131.95,171.91 L132.62,171.91 L133.28,171.91 L133.95,171.91 L134.62,171.91 L135.28,171.91 L135.95,171.91 L136.61,171.91 L137.28,171.91 L137.95,171.91 L138.61,171.91 L139.28,171.91 L139.94,171.91 L140.61,171.91 L141.28,171.91 L141.94,171.91 L142.61,171.91 L143.27,171.91 L143.94,171.91 L144.61,171.91 L145.27,171.91 L145.94,171.91 L146.6,171.91 L147.27,171.91 L147.94,171.91 L148.6,171.91 L149.27,171.91 L149.93,171.91 L150.6,171.91 L151.27,171.91 L151.93,171.91 L152.6,171.91 L153.26,171.91 L153.93,171.91" fill="none" stroke="#a90627" stroke-width="1.5"/>
<path d="M54.7 249.43L56.7 253.53L52.7 253.53Z" fill="#a90627"/><path d="M69.35 249.43L71.35 253.53L67.35 253.53Z" fill="#a90627"/><path d="M77.81 249.43L79.81 253.53L75.81 253.53Z" fill="#a90627"/><path d="M86.27 249.43L88.27 253.53L84.27 253.53Z" fill="#a90627"/><path d="M94.72 249.43L96.72 253.53L92.72 253.53Z" fill="#a90627"/><path d="M103.18 248.02L105.18 252.12L101.18 252.12Z" fill="#a90627"/><path d="M111.64 191.35L113.64 195.45L109.64 195.45Z" fill="#a90627"/><path d="M120.1 172.34L122.1 176.44L118.1 176.44Z" fill="#a90627"/><path d="M128.56 168.38L130.56 172.48L126.56 172.48Z" fill="#a90627"/><path d="M137.01 169.26L139.01 173.36L135.01 173.36Z" fill="#a90627"/><path d="M145.47 169.26L147.47 173.36L143.47 173.36Z" fill="#a90627"/><path d="M153.93 167.94L155.93 172.04L151.93 172.04Z" fill="#a90627"/>

<rect x="52.7" y="248.74" width="4" height="4" fill="#1f3f87"/><rect x="67.35" y="248.74" width="4" height="4" fill="#1f3f87"/><rect x="75.81" y="248.74" width="4" height="4" fill="#1f3f87"/><rect x="84.27" y="248.74" width="4" height="4" fill="#1f3f87"/><rect x="92.72" y="248.74" width="4" height="4" fill="#1f3f87"/><rect x="101.18" y="248.74" width="4" height="4" fill="#1f3f87"/><rect x="109.64" y="248.74" width="4" height="4" fill="#1f3f87"/><rect x="118.1" y="248.74" width="4" height="4" fill="#1f3f87"/><rect x="126.56" y="248.74" width="4" height="4" fill="#1f3f87"/><rect x="135.01" y="248.74" width="4" height="4" fill="#1f3f87"/><rect x="143.47" y="248.74" width="4" height="4" fill="#1f3f87"/><rect x="151.93" y="248.74" width="4" height="4" fill="#1f3f87"/>
<path d="M220.5 162.6V253.7" stroke="#1a1a1a" stroke-width="1.1" fill="none"/>
<path d="M217.3 253.2H220.5" stroke="#1a1a1a" stroke-width="1"/>
<text x="214.5" y="256.14" font-size="8.2" text-anchor="end" fill="#1e1e1e" stroke="#1e1e1e" stroke-width="0.3">0</text>
<path d="M217.3 231.2H220.5" stroke="#1a1a1a" stroke-width="1"/>
<text x="214.5" y="234.14" font-size="8.2" text-anchor="end" fill="#1e1e1e" stroke="#1e1e1e" stroke-width="0.3">25</text>
<path d="M217.3 209.2H220.5" stroke="#1a1a1a" stroke-width="1"/>
<text x="214.5" y="212.14" font-size="8.2" text-anchor="end" fill="#1e1e1e" stroke="#1e1e1e" stroke-width="0.3">50</text>
<path d="M217.3 187.2H220.5" stroke="#1a1a1a" stroke-width="1"/>
<text x="214.5" y="190.14" font-size="8.2" text-anchor="end" fill="#1e1e1e" stroke="#1e1e1e" stroke-width="0.3">75</text>
<path d="M217.3 165.2H220.5" stroke="#1a1a1a" stroke-width="1"/>
<text x="214.5" y="168.14" font-size="8.2" text-anchor="end" fill="#1e1e1e" stroke="#1e1e1e" stroke-width="0.3">100</text>
<path d="M218.9 242.2H220.5" stroke="#1a1a1a" stroke-width="1"/>
<path d="M218.9 220.2H220.5" stroke="#1a1a1a" stroke-width="1"/>
<path d="M218.9 198.2H220.5" stroke="#1a1a1a" stroke-width="1"/>
<path d="M218.9 176.2H220.5" stroke="#1a1a1a" stroke-width="1"/>
<path d="M220 253.2H337.9" stroke="#1a1a1a" stroke-width="1.1"/>
<path d="M223.9 253.2V256" stroke="#1a1a1a" stroke-width="1"/>
<text font-size="7.7" text-anchor="end" fill="#1e1e1e" stroke="#1e1e1e" stroke-width="0.3" transform="translate(226.7 261.9) rotate(-45)">0.0</text>
<path d="M237.85 253.2V256" stroke="#1a1a1a" stroke-width="1"/>
<text font-size="7.7" text-anchor="end" fill="#1e1e1e" stroke="#1e1e1e" stroke-width="0.3" transform="translate(240.65 261.9) rotate(-45)">0.0001</text>
<path d="M251.8 253.2V256" stroke="#1a1a1a" stroke-width="1"/>
<text font-size="7.7" text-anchor="end" fill="#1e1e1e" stroke="#1e1e1e" stroke-width="0.3" transform="translate(254.6 261.9) rotate(-45)">0.001</text>
<path d="M265.75 253.2V256" stroke="#1a1a1a" stroke-width="1"/>
<text font-size="7.7" text-anchor="end" fill="#1e1e1e" stroke="#1e1e1e" stroke-width="0.3" transform="translate(268.55 261.9) rotate(-45)">0.01</text>
<path d="M279.7 253.2V256" stroke="#1a1a1a" stroke-width="1"/>
<text font-size="7.7" text-anchor="end" fill="#1e1e1e" stroke="#1e1e1e" stroke-width="0.3" transform="translate(282.5 261.9) rotate(-45)">0.1</text>
<path d="M293.65 253.2V256" stroke="#1a1a1a" stroke-width="1"/>
<text font-size="7.7" text-anchor="end" fill="#1e1e1e" stroke="#1e1e1e" stroke-width="0.3" transform="translate(296.45 261.9) rotate(-45)">1</text>
<path d="M307.6 253.2V256" stroke="#1a1a1a" stroke-width="1"/>
<text font-size="7.7" text-anchor="end" fill="#1e1e1e" stroke="#1e1e1e" stroke-width="0.3" transform="translate(310.4 261.9) rotate(-45)">10</text>
<path d="M321.55 253.2V256" stroke="#1a1a1a" stroke-width="1"/>
<text font-size="7.7" text-anchor="end" fill="#1e1e1e" stroke="#1e1e1e" stroke-width="0.3" transform="translate(324.35 261.9) rotate(-45)">100</text>
<path d="M335.5 253.2V256" stroke="#1a1a1a" stroke-width="1"/>
<text font-size="7.7" text-anchor="end" fill="#1e1e1e" stroke="#1e1e1e" stroke-width="0.3" transform="translate(338.3 261.9) rotate(-45)">1000</text>
<text x="-0.26" y="0" font-size="10.2" fill="#1e1e1e" stroke="#1e1e1e" stroke-width="0.2" textLength="80" lengthAdjust="spacing" transform="translate(186.4 233.8) rotate(-90) scale(0.64 1)">T-cell activation</text>
<text x="-0.36" y="0" font-size="10.2" fill="#1e1e1e" stroke="#1e1e1e" stroke-width="0.2" textLength="113.5" lengthAdjust="spacing" transform="translate(198.5 244.4) rotate(-90) scale(0.64 1)">% CD25+ (live T cells)</text>
<path d="M223.9,252.67 L224.57,252.67 L225.23,252.67 L225.9,252.67 L226.56,252.67 L227.23,252.67 L227.9,252.67 L228.56,252.67 L229.23,252.67 L229.89,252.67 L230.56,252.67 L231.23,252.67 L231.89,252.67 L232.56,252.67 L233.22,252.67 L233.89,252.67 L234.56,252.67 L235.22,252.67 L235.89,252.67 L236.55,252.67 L237.22,252.67 L237.89,252.67 L238.55,252.67 L239.22,252.67 L239.88,252.67 L240.55,252.67 L241.22,252.67 L241.88,252.67 L242.55,252.67 L243.21,252.67 L243.88,252.67 L244.55,252.67 L245.21,252.67 L245.88,252.67 L246.54,252.67 L247.21,252.67 L247.88,252.67 L248.54,252.67 L249.21,252.67 L249.87,252.67 L250.54,252.67 L251.2,252.67 L251.87,252.67 L252.54,252.67 L253.2,252.67 L253.87,252.67 L254.53,252.67 L255.2,252.67 L255.87,252.67 L256.53,252.67 L257.2,252.67 L257.86,252.67 L258.53,252.67 L259.2,252.67 L259.86,252.67 L260.53,252.67 L261.19,252.67 L261.86,252.67 L262.53,252.67 L263.19,252.67 L263.86,252.67 L264.52,252.67 L265.19,252.67 L265.86,252.67 L266.52,252.67 L267.19,252.67 L267.85,252.67 L268.52,252.67 L269.19,252.67 L269.85,252.67 L270.52,252.67 L271.18,252.67 L271.85,252.67 L272.52,252.67 L273.18,252.67 L273.85,252.67 L274.51,252.67 L275.18,252.67 L275.85,252.67 L276.51,252.67 L277.18,252.67 L277.84,252.67 L278.51,252.67 L279.18,252.67 L279.84,252.67 L280.51,252.67 L281.17,252.67 L281.84,252.67 L282.51,252.67 L283.17,252.67 L283.84,252.67 L284.5,252.67 L285.17,252.67 L285.84,252.67 L286.5,252.67 L287.17,252.67 L287.83,252.67 L288.5,252.67 L289.17,252.66 L289.83,252.66 L290.5,252.66 L291.16,252.66 L291.83,252.66 L292.5,252.65 L293.16,252.65 L293.83,252.64 L294.49,252.64 L295.16,252.63 L295.83,252.62 L296.49,252.61 L297.16,252.6 L297.82,252.59 L298.49,252.57 L299.15,252.55 L299.82,252.53 L300.49,252.5 L301.15,252.46 L301.82,252.43 L302.48,252.38 L303.15,252.33 L303.82,252.27 L304.48,252.21 L305.15,252.14 L305.81,252.06 L306.48,251.98 L307.15,251.89 L307.81,251.79 L308.48,251.7 L309.14,251.6 L309.81,251.51 L310.48,251.42 L311.14,251.33 L311.81,251.24 L312.47,251.17 L313.14,251.1 L313.81,251.03 L314.47,250.98 L315.14,250.93 L315.8,250.89 L316.47,250.85 L317.14,250.82 L317.8,250.79 L318.47,250.77 L319.13,250.75 L319.8,250.73 L320.47,250.72 L321.13,250.71 L321.8,250.7 L322.46,250.69 L323.13,250.68" fill="none" stroke="#56a02c" stroke-width="1.5"/>
<circle cx="223.9" cy="250.91" r="2.15" fill="#56a02c"/><circle cx="238.55" cy="252.32" r="2.15" fill="#56a02c"/><circle cx="247.01" cy="252.32" r="2.15" fill="#56a02c"/><circle cx="255.47" cy="252.32" r="2.15" fill="#56a02c"/><circle cx="263.92" cy="250.91" r="2.15" fill="#56a02c"/><circle cx="272.38" cy="252.32" r="2.15" fill="#56a02c"/><circle cx="280.84" cy="252.32" r="2.15" fill="#56a02c"/><circle cx="289.3" cy="251.09" r="2.15" fill="#56a02c"/><circle cx="297.76" cy="250.38" r="2.15" fill="#56a02c"/><circle cx="306.21" cy="252.14" r="2.15" fill="#56a02c"/><circle cx="314.67" cy="252.14" r="2.15" fill="#56a02c"/><circle cx="323.13" cy="250.21" r="2.15" fill="#56a02c"/>
<path d="M223.9,252.65 L224.57,252.65 L225.23,252.65 L225.9,252.65 L226.56,252.65 L227.23,252.65 L227.9,252.65 L228.56,252.65 L229.23,252.65 L229.89,252.65 L230.56,252.65 L231.23,252.65 L231.89,252.65 L232.56,252.65 L233.22,252.65 L233.89,252.65 L234.56,252.65 L235.22,252.65 L235.89,252.65 L236.55,252.65 L237.22,252.65 L237.89,252.65 L238.55,252.65 L239.22,252.65 L239.88,252.65 L240.55,252.65 L241.22,252.65 L241.88,252.65 L242.55,252.65 L243.21,252.65 L243.88,252.65 L244.55,252.65 L245.21,252.65 L245.88,252.65 L246.54,252.65 L247.21,252.65 L247.88,252.65 L248.54,252.65 L249.21,252.65 L249.87,252.65 L250.54,252.65 L251.2,252.65 L251.87,252.65 L252.54,252.65 L253.2,252.65 L253.87,252.65 L254.53,252.65 L255.2,252.65 L255.87,252.65 L256.53,252.65 L257.2,252.65 L257.86,252.65 L258.53,252.65 L259.2,252.64 L259.86,252.64 L260.53,252.64 L261.19,252.64 L261.86,252.64 L262.53,252.63 L263.19,252.63 L263.86,252.62 L264.52,252.61 L265.19,252.6 L265.86,252.59 L266.52,252.57 L267.19,252.54 L267.85,252.51 L268.52,252.46 L269.19,252.4 L269.85,252.32 L270.52,252.21 L271.18,252.08 L271.85,251.89 L272.52,251.65 L273.18,251.33 L273.85,250.91 L274.51,250.37 L275.18,249.65 L275.85,248.73 L276.51,247.55 L277.18,246.03 L277.84,244.12 L278.51,241.74 L279.18,238.82 L279.84,235.33 L280.51,231.24 L281.17,226.61 L281.84,221.51 L282.51,216.11 L283.17,210.6 L283.84,205.2 L284.5,200.1 L285.17,195.46 L285.84,191.38 L286.5,187.88 L287.17,184.97 L287.83,182.59 L288.5,180.67 L289.17,179.16 L289.83,177.97 L290.5,177.05 L291.16,176.34 L291.83,175.79 L292.5,175.37 L293.16,175.05 L293.83,174.81 L294.49,174.63 L295.16,174.49 L295.83,174.38 L296.49,174.3 L297.16,174.24 L297.82,174.19 L298.49,174.16 L299.15,174.13 L299.82,174.11 L300.49,174.1 L301.15,174.09 L301.82,174.08 L302.48,174.07 L303.15,174.07 L303.82,174.06 L304.48,174.06 L305.15,174.06 L305.81,174.06 L306.48,174.06 L307.15,174.06 L307.81,174.05 L308.48,174.05 L309.14,174.05 L309.81,174.05 L310.48,174.05 L311.14,174.05 L311.81,174.05 L312.47,174.05 L313.14,174.05 L313.81,174.05 L314.47,174.05 L315.14,174.05 L315.8,174.05 L316.47,174.05 L317.14,174.05 L317.8,174.05 L318.47,174.05 L319.13,174.05 L319.8,174.05 L320.47,174.05 L321.13,174.05 L321.8,174.05 L322.46,174.05 L323.13,174.05" fill="none" stroke="#a90627" stroke-width="1.5"/>
<path d="M223.9 249.95L225.9 254.05L221.9 254.05Z" fill="#a90627"/><path d="M238.55 249.95L240.55 254.05L236.55 254.05Z" fill="#a90627"/><path d="M247.01 249.95L249.01 254.05L245.01 254.05Z" fill="#a90627"/><path d="M255.47 249.95L257.47 254.05L253.47 254.05Z" fill="#a90627"/><path d="M263.92 249.95L265.92 254.05L261.92 254.05Z" fill="#a90627"/><path d="M272.38 249.95L274.38 254.05L270.38 254.05Z" fill="#a90627"/><path d="M280.84 226.37L282.84 230.47L278.84 230.47Z" fill="#a90627"/><path d="M289.3 176.47L291.3 180.57L287.3 180.57Z" fill="#a90627"/><path d="M297.76 172.34L299.76 176.44L295.76 176.44Z" fill="#a90627"/><path d="M306.21 171.02L308.21 175.12L304.21 175.12Z" fill="#a90627"/><path d="M314.67 172.07L316.67 176.17L312.67 176.17Z" fill="#a90627"/><path d="M323.13 170.67L325.13 174.77L321.13 174.77Z" fill="#a90627"/>

<rect x="221.9" y="249.7" width="4" height="4" fill="#1f3f87"/><rect x="236.55" y="249.7" width="4" height="4" fill="#1f3f87"/><rect x="245.01" y="249.7" width="4" height="4" fill="#1f3f87"/><rect x="253.47" y="249.7" width="4" height="4" fill="#1f3f87"/><rect x="261.92" y="249.7" width="4" height="4" fill="#1f3f87"/><rect x="270.38" y="249.7" width="4" height="4" fill="#1f3f87"/><rect x="278.84" y="249.7" width="4" height="4" fill="#1f3f87"/><rect x="287.3" y="249.7" width="4" height="4" fill="#1f3f87"/><rect x="295.76" y="249.7" width="4" height="4" fill="#1f3f87"/><rect x="304.21" y="249.7" width="4" height="4" fill="#1f3f87"/><rect x="312.67" y="249.7" width="4" height="4" fill="#1f3f87"/><rect x="321.13" y="249.7" width="4" height="4" fill="#1f3f87"/>
<path d="M393.7 162.6V253.7" stroke="#1a1a1a" stroke-width="1.1" fill="none"/>
<path d="M390.5 253.2H393.7" stroke="#1a1a1a" stroke-width="1"/>
<text x="387.7" y="256.14" font-size="8.2" text-anchor="end" fill="#1e1e1e" stroke="#1e1e1e" stroke-width="0.3">0</text>
<path d="M390.5 231.2H393.7" stroke="#1a1a1a" stroke-width="1"/>
<text x="387.7" y="234.14" font-size="8.2" text-anchor="end" fill="#1e1e1e" stroke="#1e1e1e" stroke-width="0.3">25</text>
<path d="M390.5 209.2H393.7" stroke="#1a1a1a" stroke-width="1"/>
<text x="387.7" y="212.14" font-size="8.2" text-anchor="end" fill="#1e1e1e" stroke="#1e1e1e" stroke-width="0.3">50</text>
<path d="M390.5 187.2H393.7" stroke="#1a1a1a" stroke-width="1"/>
<text x="387.7" y="190.14" font-size="8.2" text-anchor="end" fill="#1e1e1e" stroke="#1e1e1e" stroke-width="0.3">75</text>
<path d="M390.5 165.2H393.7" stroke="#1a1a1a" stroke-width="1"/>
<text x="387.7" y="168.14" font-size="8.2" text-anchor="end" fill="#1e1e1e" stroke="#1e1e1e" stroke-width="0.3">100</text>
<path d="M392.1 242.2H393.7" stroke="#1a1a1a" stroke-width="1"/>
<path d="M392.1 220.2H393.7" stroke="#1a1a1a" stroke-width="1"/>
<path d="M392.1 198.2H393.7" stroke="#1a1a1a" stroke-width="1"/>
<path d="M392.1 176.2H393.7" stroke="#1a1a1a" stroke-width="1"/>
<path d="M393.2 253.2H511.1" stroke="#1a1a1a" stroke-width="1.1"/>
<path d="M397.1 253.2V256" stroke="#1a1a1a" stroke-width="1"/>
<text font-size="7.7" text-anchor="end" fill="#1e1e1e" stroke="#1e1e1e" stroke-width="0.3" transform="translate(399.9 261.9) rotate(-45)">0.0</text>
<path d="M411.05 253.2V256" stroke="#1a1a1a" stroke-width="1"/>
<text font-size="7.7" text-anchor="end" fill="#1e1e1e" stroke="#1e1e1e" stroke-width="0.3" transform="translate(413.85 261.9) rotate(-45)">0.0001</text>
<path d="M425 253.2V256" stroke="#1a1a1a" stroke-width="1"/>
<text font-size="7.7" text-anchor="end" fill="#1e1e1e" stroke="#1e1e1e" stroke-width="0.3" transform="translate(427.8 261.9) rotate(-45)">0.001</text>
<path d="M438.95 253.2V256" stroke="#1a1a1a" stroke-width="1"/>
<text font-size="7.7" text-anchor="end" fill="#1e1e1e" stroke="#1e1e1e" stroke-width="0.3" transform="translate(441.75 261.9) rotate(-45)">0.01</text>
<path d="M452.9 253.2V256" stroke="#1a1a1a" stroke-width="1"/>
<text font-size="7.7" text-anchor="end" fill="#1e1e1e" stroke="#1e1e1e" stroke-width="0.3" transform="translate(455.7 261.9) rotate(-45)">0.1</text>
<path d="M466.85 253.2V256" stroke="#1a1a1a" stroke-width="1"/>
<text font-size="7.7" text-anchor="end" fill="#1e1e1e" stroke="#1e1e1e" stroke-width="0.3" transform="translate(469.65 261.9) rotate(-45)">1</text>
<path d="M480.8 253.2V256" stroke="#1a1a1a" stroke-width="1"/>
<text font-size="7.7" text-anchor="end" fill="#1e1e1e" stroke="#1e1e1e" stroke-width="0.3" transform="translate(483.6 261.9) rotate(-45)">10</text>
<path d="M494.75 253.2V256" stroke="#1a1a1a" stroke-width="1"/>
<text font-size="7.7" text-anchor="end" fill="#1e1e1e" stroke="#1e1e1e" stroke-width="0.3" transform="translate(497.55 261.9) rotate(-45)">100</text>
<path d="M508.7 253.2V256" stroke="#1a1a1a" stroke-width="1"/>
<text font-size="7.7" text-anchor="end" fill="#1e1e1e" stroke="#1e1e1e" stroke-width="0.3" transform="translate(511.5 261.9) rotate(-45)">1000</text>
<text x="-0.26" y="0" font-size="10.2" fill="#1e1e1e" stroke="#1e1e1e" stroke-width="0.2" textLength="80" lengthAdjust="spacing" transform="translate(357 233) rotate(-90) scale(0.64 1)">T-cell activation</text>
<text x="-0.36" y="0" font-size="10.2" fill="#1e1e1e" stroke="#1e1e1e" stroke-width="0.2" textLength="113.5" lengthAdjust="spacing" transform="translate(369.1 243.6) rotate(-90) scale(0.64 1)">% CD25+ (live T cells)</text>
<path d="M397.1,250.7 L397.77,250.7 L398.43,250.7 L399.1,250.7 L399.76,250.7 L400.43,250.7 L401.1,250.7 L401.76,250.7 L402.43,250.7 L403.09,250.7 L403.76,250.7 L404.43,250.7 L405.09,250.7 L405.76,250.7 L406.42,250.7 L407.09,250.7 L407.76,250.7 L408.42,250.7 L409.09,250.7 L409.75,250.7 L410.42,250.7 L411.09,250.7 L411.75,250.7 L412.42,250.7 L413.08,250.7 L413.75,250.7 L414.42,250.7 L415.08,250.7 L415.75,250.69 L416.41,250.69 L417.08,250.69 L417.75,250.69 L418.41,250.69 L419.08,250.69 L419.74,250.68 L420.41,250.68 L421.08,250.68 L421.74,250.67 L422.41,250.67 L423.07,250.66 L423.74,250.65 L424.4,250.64 L425.07,250.62 L425.74,250.61 L426.4,250.58 L427.07,250.56 L427.73,250.52 L428.4,250.48 L429.07,250.43 L429.73,250.36 L430.4,250.28 L431.06,250.18 L431.73,250.06 L432.4,249.9 L433.06,249.71 L433.73,249.47 L434.39,249.18 L435.06,248.83 L435.73,248.38 L436.39,247.84 L437.06,247.18 L437.72,246.38 L438.39,245.4 L439.06,244.21 L439.72,242.79 L440.39,241.1 L441.05,239.1 L441.72,236.77 L442.39,234.08 L443.05,231.02 L443.72,227.59 L444.38,223.83 L445.05,219.77 L445.72,215.49 L446.38,211.07 L447.05,206.62 L447.71,202.25 L448.38,198.03 L449.05,194.07 L449.71,190.42 L450.38,187.12 L451.04,184.19 L451.71,181.62 L452.38,179.41 L453.04,177.53 L453.71,175.94 L454.37,174.6 L455.04,173.49 L455.71,172.58 L456.37,171.83 L457.04,171.21 L457.7,170.71 L458.37,170.3 L459.04,169.96 L459.7,169.69 L460.37,169.47 L461.03,169.3 L461.7,169.15 L462.37,169.04 L463.03,168.94 L463.7,168.87 L464.36,168.81 L465.03,168.76 L465.7,168.72 L466.36,168.69 L467.03,168.66 L467.69,168.64 L468.36,168.63 L469.03,168.61 L469.69,168.6 L470.36,168.59 L471.02,168.59 L471.69,168.58 L472.35,168.58 L473.02,168.57 L473.69,168.57 L474.35,168.57 L475.02,168.57 L475.68,168.56 L476.35,168.56 L477.02,168.56 L477.68,168.56 L478.35,168.56 L479.01,168.56 L479.68,168.56 L480.35,168.56 L481.01,168.56 L481.68,168.56 L482.34,168.56 L483.01,168.56 L483.68,168.56 L484.34,168.56 L485.01,168.56 L485.67,168.56 L486.34,168.56 L487.01,168.56 L487.67,168.56 L488.34,168.56 L489,168.56 L489.67,168.56 L490.34,168.56 L491,168.56 L491.67,168.56 L492.33,168.56 L493,168.56 L493.67,168.56 L494.33,168.56 L495,168.56 L495.66,168.56 L496.33,168.56" fill="none" stroke="#56a02c" stroke-width="1.5"/>
<path d="M397.1 251.26H496.33" stroke="#1f3f87" stroke-width="1.5"/>
<path d="M397.1,251.88 L397.77,251.88 L398.43,251.88 L399.1,251.88 L399.76,251.88 L400.43,251.88 L401.1,251.88 L401.76,251.88 L402.43,251.88 L403.09,251.88 L403.76,251.88 L404.43,251.88 L405.09,251.88 L405.76,251.88 L406.42,251.88 L407.09,251.88 L407.76,251.88 L408.42,251.88 L409.09,251.88 L409.75,251.88 L410.42,251.88 L411.09,251.88 L411.75,251.88 L412.42,251.88 L413.08,251.88 L413.75,251.88 L414.42,251.88 L415.08,251.88 L415.75,251.88 L416.41,251.88 L417.08,251.88 L417.75,251.88 L418.41,251.88 L419.08,251.88 L419.74,251.88 L420.41,251.88 L421.08,251.88 L421.74,251.88 L422.41,251.88 L423.07,251.88 L423.74,251.88 L424.4,251.88 L425.07,251.88 L425.74,251.88 L426.4,251.88 L427.07,251.88 L427.73,251.88 L428.4,251.88 L429.07,251.88 L429.73,251.88 L430.4,251.88 L431.06,251.88 L431.73,251.88 L432.4,251.88 L433.06,251.88 L433.73,251.88 L434.39,251.88 L435.06,251.88 L435.73,251.88 L436.39,251.88 L437.06,251.88 L437.72,251.88 L438.39,251.88 L439.06,251.88 L439.72,251.88 L440.39,251.88 L441.05,251.88 L441.72,251.88 L442.39,251.88 L443.05,251.88 L443.72,251.88 L444.38,251.88 L445.05,251.88 L445.72,251.88 L446.38,251.88 L447.05,251.88 L447.71,251.88 L448.38,251.88 L449.05,251.88 L449.71,251.88 L450.38,251.88 L451.04,251.88 L451.71,251.88 L452.38,251.88 L453.04,251.88 L453.71,251.88 L454.37,251.88 L455.04,251.88 L455.71,251.88 L456.37,251.88 L457.04,251.88 L457.7,251.88 L458.37,251.88 L459.04,251.88 L459.7,251.87 L460.37,251.87 L461.03,251.87 L461.7,251.87 L462.37,251.86 L463.03,251.86 L463.7,251.85 L464.36,251.84 L465.03,251.82 L465.7,251.8 L466.36,251.77 L467.03,251.73 L467.69,251.68 L468.36,251.61 L469.03,251.52 L469.69,251.4 L470.36,251.25 L471.02,251.04 L471.69,250.78 L472.35,250.46 L473.02,250.06 L473.69,249.58 L474.35,249.03 L475.02,248.41 L475.68,247.75 L476.35,247.08 L477.02,246.43 L477.68,245.81 L478.35,245.27 L479.01,244.79 L479.68,244.4 L480.35,244.07 L481.01,243.82 L481.68,243.62 L482.34,243.46 L483.01,243.34 L483.68,243.26 L484.34,243.19 L485.01,243.14 L485.67,243.1 L486.34,243.07 L487.01,243.05 L487.67,243.04 L488.34,243.02 L489,243.02 L489.67,243.01 L490.34,243.01 L491,243 L491.67,243 L492.33,243 L493,243 L493.67,242.99 L494.33,242.99 L495,242.99 L495.66,242.99 L496.33,242.99" fill="none" stroke="#a90627" stroke-width="1.5"/>
<circle cx="397.1" cy="250.56" r="2.15" fill="#56a02c"/><circle cx="411.75" cy="250.56" r="2.15" fill="#56a02c"/><circle cx="420.21" cy="250.56" r="2.15" fill="#56a02c"/><circle cx="428.67" cy="250.56" r="2.15" fill="#56a02c"/><circle cx="437.12" cy="247.48" r="2.15" fill="#56a02c"/><circle cx="445.58" cy="216.24" r="2.15" fill="#56a02c"/><circle cx="454.04" cy="175.41" r="2.15" fill="#56a02c"/><circle cx="462.5" cy="169.34" r="2.15" fill="#56a02c"/><circle cx="470.96" cy="168.5" r="2.15" fill="#56a02c"/><circle cx="479.41" cy="168.02" r="2.15" fill="#56a02c"/><circle cx="487.87" cy="168.81" r="2.15" fill="#56a02c"/><circle cx="496.33" cy="168.5" r="2.15" fill="#56a02c"/>
<path d="M397.1 249.34L399.1 253.44L395.1 253.44Z" fill="#a90627"/><path d="M411.75 249.34L413.75 253.44L409.75 253.44Z" fill="#a90627"/><path d="M420.21 249.34L422.21 253.44L418.21 253.44Z" fill="#a90627"/><path d="M428.67 249.34L430.67 253.44L426.67 253.44Z" fill="#a90627"/><path d="M437.12 249.34L439.12 253.44L435.12 253.44Z" fill="#a90627"/><path d="M445.58 249.34L447.58 253.44L443.58 253.44Z" fill="#a90627"/><path d="M454.04 249.34L456.04 253.44L452.04 253.44Z" fill="#a90627"/><path d="M462.5 249.34L464.5 253.44L460.5 253.44Z" fill="#a90627"/><path d="M470.96 249.34L472.96 253.44L468.96 253.44Z" fill="#a90627"/><path d="M479.41 241.86L481.41 245.96L477.41 245.96Z" fill="#a90627"/><path d="M487.87 236.84L489.87 240.94L485.87 240.94Z" fill="#a90627"/><path d="M496.33 244.85L498.33 248.95L494.33 248.95Z" fill="#a90627"/>
<rect x="395.1" y="249.44" width="4" height="4" fill="#1f3f87"/><rect x="409.75" y="249.44" width="4" height="4" fill="#1f3f87"/><rect x="418.21" y="249.44" width="4" height="4" fill="#1f3f87"/><rect x="426.67" y="249.44" width="4" height="4" fill="#1f3f87"/><rect x="435.12" y="249.44" width="4" height="4" fill="#1f3f87"/><rect x="443.58" y="249.44" width="4" height="4" fill="#1f3f87"/><rect x="452.04" y="249.44" width="4" height="4" fill="#1f3f87"/><rect x="460.5" y="249.44" width="4" height="4" fill="#1f3f87"/><rect x="468.96" y="249.44" width="4" height="4" fill="#1f3f87"/><rect x="477.41" y="248.03" width="4" height="4" fill="#1f3f87"/><rect x="485.87" y="249.09" width="4" height="4" fill="#1f3f87"/><rect x="494.33" y="249.44" width="4" height="4" fill="#1f3f87"/>
<text x="231.39" y="293" font-size="10.1" fill="#1e1e1e" textLength="97.1" lengthAdjust="spacingAndGlyphs" stroke="#1e1e1e" stroke-width="0.3">DuoBody concentration (nM)</text>
<path d="M191 308H201" stroke="#a90627" stroke-width="1.6"/><path d="M196 305.46L198 309.56L194 309.56Z" fill="#a90627"/><text x="236.64" y="310.3" font-size="8.6" fill="#a90627" textLength="47.24" lengthAdjust="spacing" transform="scale(0.86 1)">BCMAxCD3</text>
<path d="M253 308H263" stroke="#56a02c" stroke-width="1.6"/><circle cx="258" cy="308" r="2.15" fill="#56a02c"/><text x="308.64" y="310.3" font-size="8.6" fill="#56a02c" textLength="56.54" lengthAdjust="spacing" transform="scale(0.86 1)">GPRC5DxCD3</text>
<path d="M323 308H332.5" stroke="#1f3f87" stroke-width="1.6"/><rect x="325.75" y="306" width="4" height="4" fill="#1f3f87"/><text x="389.89" y="310.3" font-size="8.6" fill="#1f3f87" textLength="37.61" lengthAdjust="spacing" transform="scale(0.86 1)">NullxCD3</text>
</svg></body></html>
